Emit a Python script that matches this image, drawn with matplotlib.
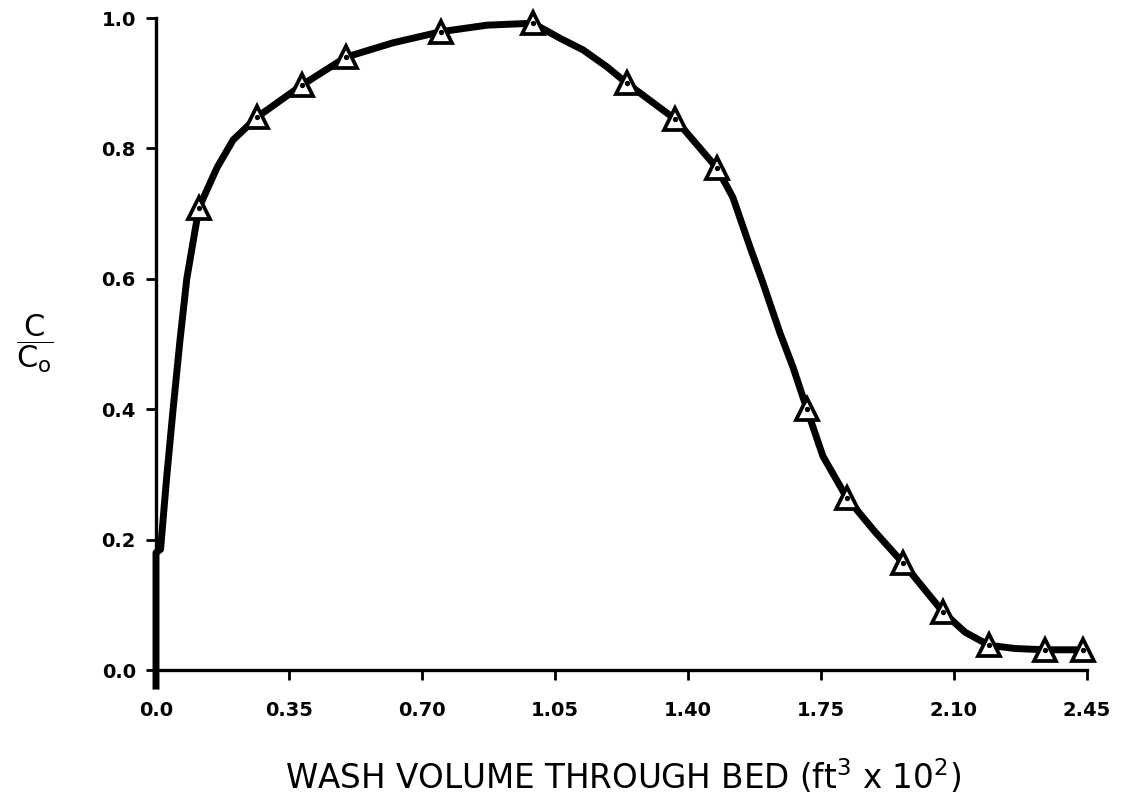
import matplotlib
matplotlib.use("Agg")
import matplotlib.pyplot as plt

# Marker (measured) points
x_pts = [0.113, 0.266, 0.384, 0.500, 0.750, 0.992, 1.239, 1.366, 1.476,
         1.713, 1.818, 1.966, 2.071, 2.192, 2.339, 2.439]
y_pts = [0.709, 0.848, 0.897, 0.940, 0.979, 0.992, 0.900, 0.845, 0.770,
         0.400, 0.264, 0.164, 0.089, 0.038, 0.031, 0.031]

# Hand-drawn curve
curve_x = [0.0, 0.0, 0.012, 0.028, 0.045, 0.063, 0.081, 0.103, 0.113, 0.161,
           0.203, 0.266, 0.384, 0.500, 0.624, 0.750, 0.871, 0.992, 1.063,
           1.124, 1.187, 1.239, 1.366, 1.476, 1.518, 1.563, 1.597, 1.642,
           1.676, 1.713, 1.755, 1.818, 1.892, 1.966, 2.071, 2.129, 2.192,
           2.260, 2.339, 2.439]
curve_y = [-0.03, 0.180, 0.185, 0.295, 0.400, 0.505, 0.600, 0.675, 0.709, 0.771,
           0.813, 0.848, 0.897, 0.940, 0.962, 0.979, 0.989, 0.992, 0.969,
           0.951, 0.925, 0.900, 0.845, 0.770, 0.725, 0.649, 0.594, 0.517,
           0.465, 0.400, 0.328, 0.264, 0.212, 0.164, 0.089, 0.058, 0.038,
           0.033, 0.031, 0.031]

x_ticks = [0.0, 0.35, 0.70, 1.05, 1.40, 1.75, 2.10, 2.45]
x_ticklabels = ["0.0", "0.35", "0.70", "1.05", "1.40", "1.75", "2.10", "2.45"]
y_ticks = [0.0, 0.2, 0.4, 0.6, 0.8, 1.0]
y_ticklabels = ["0.0", "0.2", "0.4", "0.6", "0.8", "1.0"]

W, H = 1121, 802
fig = plt.figure(figsize=(W / 100, H / 100), dpi=100)
ax = fig.add_axes([156 / W, 1 - 670 / H, (1087 - 156) / W, (670 - 18) / H])

ax.plot(curve_x, curve_y, color="black", lw=5.0, solid_joinstyle="round",
        solid_capstyle="butt", clip_on=False, zorder=3)
ax.plot(x_pts, y_pts, linestyle="none", marker="^", markersize=15.5,
        markerfacecolor="white", markeredgecolor="black", markeredgewidth=2.7,
        clip_on=False, zorder=4)
ax.plot(x_pts, y_pts, linestyle="none", marker="o", markersize=2.8,
        color="black", clip_on=False, zorder=5)

ax.set_xlim(0, 2.45)
ax.set_ylim(0, 1.0)
ax.set_xticks(x_ticks)
ax.set_xticklabels(x_ticklabels)
ax.set_yticks(y_ticks)
ax.set_yticklabels(y_ticklabels)

for s in ["top", "right"]:
    ax.spines[s].set_visible(False)
for s in ["left", "bottom"]:
    ax.spines[s].set_linewidth(2.4)
    ax.spines[s].set_color("black")

ax.tick_params(axis="x", direction="out", length=7.5, width=2, pad=15,
               labelsize=14, colors="black")
ax.tick_params(axis="y", direction="out", length=7.5, width=2, pad=7,
               labelsize=14, colors="black")
for lab in ax.get_xticklabels() + ax.get_yticklabels():
    lab.set_fontweight("bold")

fig.text(623 / W, 1 - 777 / H, r"WASH VOLUME THROUGH BED (ft$^3$ x 10$^2$)",
         ha="center", va="center", fontsize=23.5, color="black")
fig.text(35 / W, 1 - 344 / H, r"$\dfrac{\mathrm{C}}{\mathrm{C}_\mathrm{o}}$",
         ha="center", va="center", fontsize=22, color="black")

fig.savefig("out.png", dpi=100, facecolor="white")
